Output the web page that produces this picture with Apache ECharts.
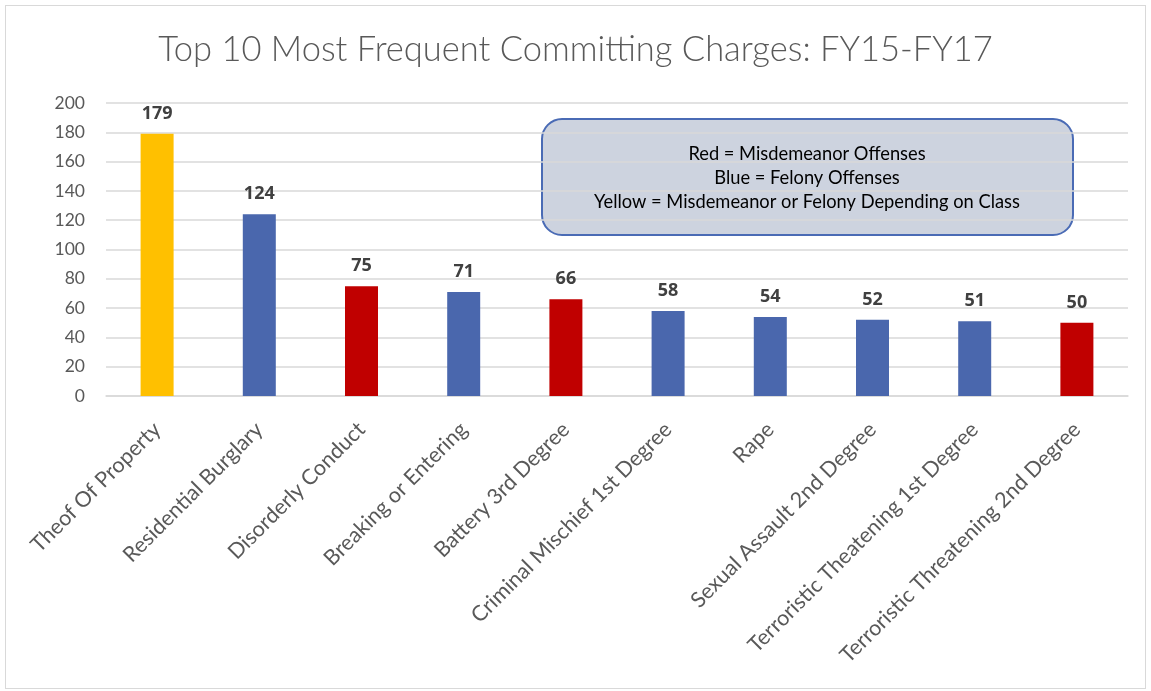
<!DOCTYPE html>
<html><head><meta charset="utf-8">
<script src="https://cdn.jsdelivr.net/npm/echarts@6/dist/echarts.min.js"></script>
<style>
html,body{margin:0;padding:0;background:#fff;}
#frame{position:absolute;left:5px;top:5px;width:1141px;height:684px;border:1px solid #d9d9d9;box-sizing:border-box;}
#c{position:absolute;left:0;top:0;width:1151px;height:691px;}
</style></head>
<body>
<div id="frame"></div>
<div id="c"></div>
<script>
const categories = ["Theof Of Property","Residential Burglary","Disorderly Conduct","Breaking or Entering","Battery 3rd Degree","Criminal Mischief 1st Degree","Rape","Sexual Assault 2nd Degree","Terroristic Theatening 1st Degree","Terroristic Threatening 2nd Degree"];
const values = [179,124,75,71,66,58,54,52,51,50];
const offenseType = ["Y","B","R","B","R","B","B","B","B","R"];
const typeColors = {R:"#c00000", B:"#4a67ad", Y:"#ffc000"};
const noteLines = ["Red = Misdemeanor Offenses","Blue = Felony Offenses","Yellow = Misdemeanor or Felony Depending on Class"];

const chart = echarts.init(document.getElementById('c'));
chart.setOption({
  animation:false,
  title:{text:"Top 10 Most Frequent Committing Charges: FY15-FY17",left:'center',top:27,
    textStyle:{fontFamily:'Lato',fontWeight:300,fontSize:34.5,color:'#595959'}},
  grid:{left:106,right:23,top:103,bottom:295},
  xAxis:{type:'category',data:categories,
    axisLine:{lineStyle:{color:'#d9d9d9',width:1.5}},axisTick:{show:false},
    axisLabel:{rotate:45,interval:0,fontFamily:'Lato, sans-serif',fontSize:21.5,color:'#595959',margin:30}},
  yAxis:{type:'value',min:0,max:200,interval:20,
    axisLine:{show:false},axisTick:{show:false},
    splitLine:{lineStyle:{color:'#d9d9d9',width:1.5}},
    axisLabel:{fontFamily:'Lato, sans-serif',fontSize:17.5,color:'#595959',margin:21}},
  series:[{type:'bar',barWidth:33,
    data:values.map((v,i)=>({value:v,itemStyle:{color:typeColors[offenseType[i]]}})),
    label:{show:true,position:'top',distance:11,fontFamily:'"Open Sans", sans-serif',fontWeight:'bold',fontSize:18,color:'#404040'}}],
  graphic:[{type:'group',left:541,top:118,children:[
    {type:'rect',shape:{x:0,y:0,width:531,height:116,r:20},style:{fill:'#cdd3df',stroke:'#4a6bb5',lineWidth:2}},
    {type:'text',style:{x:265,y:59,text:noteLines.join('\n'),align:'center',verticalAlign:'middle',
      font:'18.3px Lato, sans-serif',fill:'#000',lineHeight:24}}
  ]}]
});
</script>
</body></html>
